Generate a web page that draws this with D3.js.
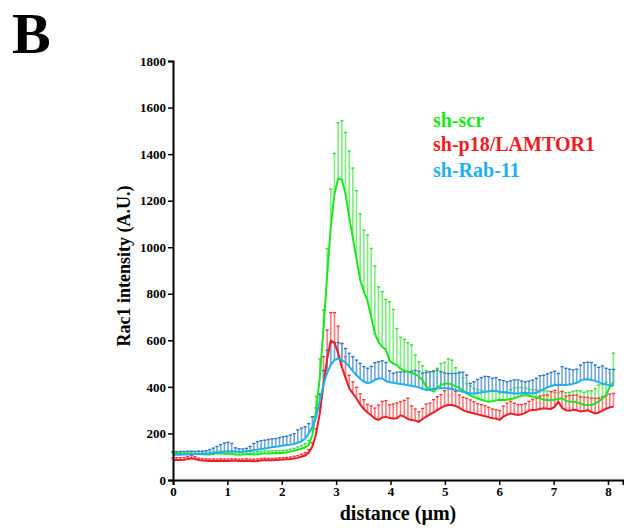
<!doctype html>
<meta charset="utf-8" />
<style>
    body { margin: 0; background: #fff; }
    svg text { font-family: "Liberation Serif", "Times New Roman", serif; font-weight: bold; }
</style>
<svg></svg>

<script src="https://cdn.jsdelivr.net/npm/d3@7"></script>

<script>
    // sampling step along the line scan (µm)
    var step = 0.0675;

    var xTicks = [0, 1, 2, 3, 4, 5, 6, 7, 8];
    var yTicks = [0, 200, 400, 600, 800, 1000, 1200, 1400, 1600, 1800];

    var seriesNames = ['sh-scr', 'sh-p18/LAMTOR1', 'sh-Rab-11'];

    // sh-scr mean and SEM
    var scrMean = [112, 113, 113, 112, 114, 113, 112, 112, 111, 110, 110, 112, 115, 114, 113, 114, 113, 110, 108, 110,
        111, 112, 110, 111, 113, 115, 114, 115, 116, 115, 117, 118, 122, 126, 130, 134, 140, 150, 195, 300,
        440, 650, 880, 1090, 1230, 1295, 1290, 1230, 1130, 1040, 950, 860, 810, 770, 700, 630, 592, 572, 560, 512,
        500, 494, 478, 470, 465, 460, 455, 445, 428, 402, 388, 380, 396, 408, 414, 415, 410, 402, 396, 384,
        372, 364, 356, 350, 345, 340, 336, 338, 342, 345, 344, 345, 348, 351, 357, 362, 365, 362, 358, 356,
        350, 345, 343, 344, 345, 348, 351, 340, 336, 336, 334, 328, 322, 322, 322, 328, 338, 350, 365, 400, 420];
    var scrErr = [10, 10, 10, 10, 10, 10, 10, 10, 10, 10, 10, 10, 10, 10, 10, 10, 10, 10, 10, 10,
        10, 10, 10, 10, 10, 10, 10, 10, 10, 10, 10, 10, 10, 10, 12, 14, 16, 20, 75, 60,
        80, 80, 115, 160, 173, 240, 253, 263, 283, 300, 293, 283, 264, 282, 295, 289, 238, 237, 216, 254,
        233, 157, 135, 134, 125, 120, 82, 63, 62, 68, 77, 90, 84, 92, 91, 105, 105, 80, 62, 56,
        43, 40, 38, 38, 40, 42, 45, 45, 42, 30, 32, 35, 40, 45, 40, 35, 30, 28, 30, 32,
        35, 38, 40, 35, 30, 28, 30, 35, 40, 45, 50, 55, 55, 60, 62, 65, 70, 60, 55, 60, 125];

    // sh-p18/LAMTOR1 mean and SEM
    var p18Mean = [85, 86, 86, 87, 90, 93, 90, 86, 84, 83, 82, 82, 82, 83, 82, 82, 83, 83, 82, 82,
        83, 82, 81, 82, 84, 86, 85, 85, 86, 87, 88, 89, 90, 92, 95, 100, 105, 118, 145, 200,
        286, 410, 520, 598, 590, 545, 485, 440, 395, 372, 350, 325, 305, 290, 278, 264, 258, 268, 272, 266,
        264, 265, 278, 272, 262, 258, 255, 250, 262, 272, 282, 290, 300, 310, 318, 322, 322, 318, 310, 300,
        294, 290, 286, 282, 278, 274, 270, 265, 264, 258, 272, 280, 286, 282, 279, 282, 288, 298, 301, 302,
        305, 308, 306, 305, 315, 336, 310, 300, 298, 302, 300, 294, 296, 300, 292, 286, 290, 298, 306, 312, 315];
    var p18Err = [10, 10, 10, 10, 10, 12, 10, 8, 8, 8, 8, 8, 8, 8, 8, 8, 8, 8, 8, 8,
        8, 8, 8, 8, 8, 8, 8, 8, 8, 8, 8, 8, 9, 10, 10, 11, 12, 13, 15, 20,
        25, 120, 124, 121, 129, 116, 100, 90, 55, 50, 48, 45, 40, 35, 40, 45, 64, 70, 69, 57,
        62, 66, 58, 70, 89, 60, 50, 43, 45, 54, 48, 55, 58, 57, 65, 72, 72, 62, 55, 56,
        57, 54, 50, 46, 46, 45, 42, 40, 38, 40, 45, 50, 52, 48, 45, 42, 40, 40, 45, 50,
        55, 57, 59, 75, 70, 72, 70, 60, 65, 62, 65, 64, 60, 55, 60, 65, 62, 58, 57, 57, 57];

    // sh-Rab-11 mean and SEM
    var rabMean = [108, 108, 109, 110, 110, 111, 111, 112, 112, 112, 113, 115, 117, 119, 121, 122, 123, 122, 120, 121,
        124, 126, 129, 130, 133, 135, 138, 141, 143, 145, 148, 150, 152, 155, 160, 166, 178, 200, 230, 270,
        340, 410, 460, 495, 515, 522, 515, 505, 488, 468, 450, 435, 422, 416, 420, 430, 436, 436, 425, 420,
        418, 415, 412, 410, 407, 405, 402, 398, 392, 387, 388, 392, 394, 394, 394, 393, 390, 387, 383, 379,
        375, 372, 372, 374, 376, 379, 380, 383, 382, 379, 377, 375, 374, 372, 372, 373, 374, 373, 372, 375,
        382, 390, 398, 404, 408, 409, 408, 408, 410, 413, 418, 426, 432, 433, 430, 426, 420, 414, 410, 407, 404];
    var rabErr = [12, 12, 12, 12, 12, 12, 12, 12, 12, 14, 18, 22, 27, 33, 38, 40, 34, 16, 14, 12,
        12, 18, 28, 35, 36, 36, 36, 36, 35, 37, 38, 38, 41, 44, 55, 57, 51, 42, 42, 40,
        30, 60, 98, 94, 75, 68, 72, 60, 56, 62, 65, 66, 65, 64, 68, 74, 72, 76, 80, 49,
        41, 48, 52, 55, 58, 62, 69, 69, 67, 75, 77, 74, 78, 71, 66, 64, 68, 71, 80, 84,
        76, 43, 50, 58, 64, 66, 64, 54, 58, 52, 50, 47, 52, 58, 58, 52, 48, 52, 57, 62,
        66, 60, 58, 58, 59, 49, 79, 72, 66, 60, 58, 68, 72, 73, 75, 68, 64, 76, 70, 68, 71];

    var lineColors = ['#1ee61e', '#f01c24', '#1eb0f0'];
    var barColors = ['#7cf07c', '#ff7c7c', '#6fa6dc'];
    var capColors = ['#3cdc3c', '#f03c3c', '#2f74c0'];

    var width = 624, height = 529;

    var svg = d3.select('svg')
        .attr('width', width)
        .attr('height', height)

    var x = d3.scaleLinear().domain([0, 8.276]).range([173, 623]);
    var y = d3.scaleLinear().domain([0, 1800]).range([480, 61]);

    var distance = d3.range(scrMean.length).map(function (i) { return +(i * step).toFixed(4); });

    var series = [
        { mean: scrMean, err: scrErr },
        { mean: p18Mean, err: p18Err },
        { mean: rabMean, err: rabErr }
    ];

    // error bars (upper only)
    series.forEach(function (s, k) {
        var g = svg.append('g');
        var pts = distance.map(function (d, i) { return { d: d, m: s.mean[i], e: s.err[i] }; });
        g.selectAll('line.bar').data(pts).enter().append('line')
            .attr('x1', function (p) { return x(p.d); })
            .attr('x2', function (p) { return x(p.d); })
            .attr('y1', function (p) { return y(p.m); })
            .attr('y2', function (p) { return y(p.m + p.e); })
            .style('stroke', barColors[k])
            .style('stroke-width', 1.6)
        g.selectAll('line.cap').data(pts).enter().append('line')
            .attr('x1', function (p) { return x(p.d) - 1.6; })
            .attr('x2', function (p) { return x(p.d) + 1.6; })
            .attr('y1', function (p) { return y(p.m + p.e); })
            .attr('y2', function (p) { return y(p.m + p.e); })
            .style('stroke', capColors[k])
            .style('stroke-width', 1.4)
    });

    // mean lines
    series.forEach(function (s, k) {
        var line = d3.line()
            .x(function (d, i) { return x(distance[i]); })
            .y(function (d) { return y(d); });
        svg.append('path')
            .attr('d', line(s.mean))
            .style('fill', 'none')
            .style('stroke', lineColors[k])
            .style('stroke-width', 2)
    });

    // axes
    var yAxis = svg.append('g')
        .attr('transform', 'translate(173,0)')
        .call(d3.axisLeft(y).tickValues(yTicks).tickSize(5).tickPadding(2).tickFormat(d3.format('d')));
    var xAxis = svg.append('g')
        .attr('transform', 'translate(0,480)')
        .call(d3.axisBottom(x).tickValues(xTicks).tickSize(5).tickPadding(2).tickFormat(d3.format('d')));

    [yAxis, xAxis].forEach(function (a) {
        a.select('.domain').style('stroke', '#000').style('stroke-width', 2);
        a.selectAll('.tick line').style('stroke', '#000').style('stroke-width', 1.5);
        a.selectAll('.tick text')
            .style('font-family', '"Liberation Serif", serif')
            .style('font-weight', 'bold')
            .style('font-size', '13px')
            .style('fill', '#000');
    });

    svg.append('text')
        .attr('transform', 'translate(130,266) rotate(-90)')
        .attr('text-anchor', 'middle')
        .style('font-size', '18px')
        .text('Rac1 intensity (A.U.)');

    svg.append('text')
        .attr('x', 398)
        .attr('y', 520)
        .attr('text-anchor', 'middle')
        .style('font-size', '20px')
        .text('distance (µm)');

    svg.append('text')
        .attr('x', 12)
        .attr('y', 53)
        .style('font-size', '58px')
        .text('B');

    // legend
    var legendY = [127, 151, 177];
    svg.selectAll('text.legend').data(seriesNames).enter().append('text')
        .attr('x', 433)
        .attr('y', function (d, i) { return legendY[i]; })
        .style('font-size', '20px')
        .style('fill', function (d, i) { return lineColors[i]; })
        .text(function (d) { return d; });
</script>
